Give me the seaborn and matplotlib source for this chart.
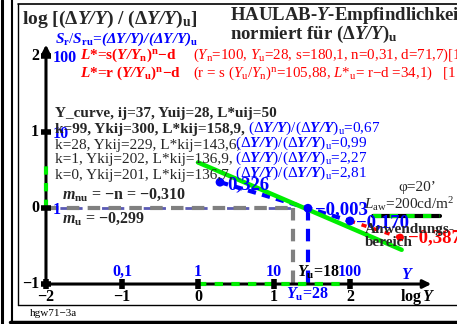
import numpy as np
import pandas as pd
import seaborn as sns
import matplotlib
matplotlib.use("Agg")
import matplotlib.pyplot as plt
from matplotlib.lines import Line2D

sns.set_theme(style="white")
plt.rcParams["font.family"] = ["Liberation Serif", "DejaVu Serif"]
plt.rcParams["mathtext.fontset"] = "custom"
plt.rcParams["mathtext.rm"] = "Liberation Serif"
plt.rcParams["mathtext.it"] = "Liberation Serif:italic"
plt.rcParams["mathtext.bf"] = "Liberation Serif:bold"
plt.rcParams["mathtext.bfit"] = "Liberation Serif:bold:italic"

# ---------------- data ----------------
x_ticks = [-2, -1, 0, 1, 2]
x_tick_labels = ["−2", "−1", "0", "1", "2"]
y_lin_pos = [-1, 0, 1, 2]
y_lin_labels = ["0,1", "1", "10", "100"]
y_ticks = [-1, 0, 1, 2]
y_tick_labels = ["−1", "0", "1", "2"]
s_ticks = [0, 1, 2]
s_labels = ["1", "10", "100"]

curve_logY = [0.0, 2.68]
curve_val = [0.60, -0.55]

point_logY = [0.29, 1.447, 2.0]
point_val = [0.34, -0.003, -0.17]
point_labels = ["0,326", "−0,003", "−0,170"]

red_logY = [2.0, 2.66]
red_val = [-0.17, -0.387]
red_label = "−0,387"

Yu_ref = 28
Yu_alt = 18

rows_black = ["k=99, Ykij=300, L*kij=158,9, ",
              "k=28, Ykij=229, L*kij=143,6, ",
              "k=1, Ykij=202, L*kij=136,9, ",
              "k=0, Ykij=201, L*kij=136,7, "]
rows_ratio = ["0,67", "0,99", "2,27", "2,81"]

W, H = 457, 324
fig = plt.figure(figsize=(W / 100, H / 100), dpi=100)
ax = fig.add_axes([0, 0, 1, 1])
ax.set_xlim(-2.605, 3.408)
ax.set_ylim(-1.526, 2.737)
ax.set_axis_off()


def fx(px):
    return px / W


def fy(py):
    return 1 - py / H


def ftext(px, py, s, **kw):
    kw.setdefault("va", "center")
    kw.setdefault("ha", "left")
    return fig.text(fx(px), fy(py), s, **kw)


def fline(xs, ys, **kw):
    fig.add_artist(Line2D([fx(v) for v in xs], [fy(v) for v in ys],
                          transform=fig.transFigure, **kw))

# frames
fline([1.5, 1.5], [0, 324], color="black", lw=2.2)
fline([11.5, 11.5], [0, 324], color="black", lw=1.5)
fline([10, 457], [322, 322], color="black", lw=2.5)
fline([18, 457], [4, 4], color="black", lw=1.2)
fline([18, 18], [4, 305], color="black", lw=1.0)
fline([18, 457], [305, 305], color="black", lw=1.0)
ftext(30, 313, "hgw71−3a", fontsize=8, color="black")

GREEN = "#00ee00"
BLUE = "#0000ff"
RED = "#ff0000"
GRAY = "#808080"

# reference dashed lines
lyu = np.log10(Yu_ref)
lya = np.log10(Yu_alt)
ax.plot([-2, lya], [0, 0], color="#5a5ab4", lw=2.0, dashes=(3, 2), zorder=2)
ax.plot([-2, lya], [0, 0], color=GRAY, lw=3, dashes=(3, 2), zorder=2)
ax.plot([lya, lya], [0, -1], color=GRAY, lw=3, dashes=(3, 2), zorder=2)
ax.plot([lyu, lyu], [0, -1], color=BLUE, lw=3, dashes=(3, 2), zorder=2)

# axes with arrows
ax.annotate("", xy=(3.07, -1), xytext=(-2.02, -1),
            arrowprops=dict(arrowstyle="-|>", lw=2.2, color="black",
                            mutation_scale=12, shrinkA=0, shrinkB=0), zorder=3)
ax.annotate("", xy=(-2, 2.15), xytext=(-2, -1.02),
            arrowprops=dict(arrowstyle="-|>", lw=2.2, color="black",
                            mutation_scale=12, shrinkA=0, shrinkB=0), zorder=3)
# green/black dashed segments on axes
ax.plot([0, 1.95], [-1, -1], color=GREEN, lw=3, dashes=(2, 2), zorder=4)
ax.plot([-2, -2], [0, 0.65], color=GREEN, lw=3, dashes=(2, 2), zorder=4)
ax.plot([2.3, 3.18], [-0.105, -0.105], color="black", lw=3, zorder=4)
ax.plot([2.3, 3.18], [-0.105, -0.105], color=GREEN, lw=3, dashes=(2, 2), zorder=4)

# ticks
ax.plot(x_ticks, [-1] * len(x_ticks), ls="none", marker="|", ms=7, mew=4,
        color="black", zorder=5)
ax.plot([-2] * len(y_ticks), y_ticks, ls="none", marker="_", ms=7, mew=4,
        color="black", zorder=5)
for x, lab in zip(x_ticks, x_tick_labels):
    ax.text(x, -1.17, lab, ha="center", va="center", fontsize=11.5,
            fontweight="bold", color="black")
for x, lab in zip(y_lin_pos, y_lin_labels):
    ax.text(x, -0.84, lab, ha="center", va="center", fontsize=11.5,
            fontweight="bold", color=BLUE)
for y, lab in zip(y_ticks, y_tick_labels):
    ax.text(-2.09, y, lab, ha="right", va="center", fontsize=11.5,
            fontweight="bold", color="black")
for y, lab in zip(s_ticks, s_labels):
    ax.text(-1.91, y - 0.02, lab, ha="left", va="center", fontsize=11.5,
            fontweight="bold", color=BLUE)

ax.text(2.76, -0.88, r"$\mathbfit{Y}$", ha="center", va="center",
        fontsize=11.5, color=BLUE)
ax.text(2.66, -1.17, r"log$\,\mathbfit{Y}$", ha="left", va="center",
        fontsize=11.5, fontweight="bold", color="black")
ax.text(lya + 0.62, -0.84, r"$\mathbfit{Y}_\mathbf{u}$=18", ha="right",
        va="center", fontsize=11.5, fontweight="bold", color="black")
ax.text(lyu, -1.14, r"$\mathbfit{Y}_\mathbf{u}$=28", ha="center",
        va="center", fontsize=11.5, fontweight="bold", color=BLUE)

# data curves
sns.lineplot(x=curve_logY, y=curve_val, ax=ax, color=GREEN, lw=3.2,
             zorder=6)
sns.lineplot(x=point_logY, y=point_val, ax=ax, color=BLUE, lw=3,
             dashes=False, linestyle=(0, (2, 1.5)), zorder=5)
sns.lineplot(x=red_logY, y=red_val, ax=ax, color=RED, lw=2.5,
             linestyle=(0, (1.5, 2)), zorder=5)
sns.scatterplot(x=point_logY, y=point_val, ax=ax, color=BLUE, s=40,
                edgecolor="none", zorder=7)
sns.scatterplot(x=red_logY[1:], y=red_val[1:], ax=ax, color=RED, s=30,
                edgecolor="none", zorder=7)

label_off = [(0.1, -0.03), (0.09, -0.02), (0.08, -0.03)]
for x, y, lab, (dx, dy) in zip(point_logY, point_val, point_labels, label_off):
    ax.text(x + dx, y + dy, lab, ha="left", va="center", fontsize=13.5,
            fontweight="bold", color=BLUE, zorder=8)
ax.text(red_logY[1] + 0.1, red_val[1] + 0.0, red_label, ha="left",
        va="center", fontsize=13.5, fontweight="bold", color=RED, zorder=8)

# titles
ftext(22, 19, r"log [(Δ$\mathbfit{Y/Y}$) / (Δ$\mathbfit{Y/Y}$)$_\mathbf{u}$]",
      fontsize=14, fontweight="bold")
ftext(230, 16, r"HAULAB-$\mathbfit{Y}$-Empfindlichkeit", fontsize=13.5,
      fontweight="bold")
ftext(230, 34, r"normiert für (Δ$\mathbfit{Y/Y}$)$_\mathbf{u}$", fontsize=13.5,
      fontweight="bold")
ftext(55, 39, r"$\mathbfit{S}_\mathbf{r}/\mathbfit{S}_\mathbf{ru}$=(Δ$\mathbfit{Y/Y}$)/(Δ$\mathbfit{Y/Y}$)$_\mathbf{u}$",
      fontsize=11, fontweight="bold", fontstyle="italic", color=BLUE)
ftext(80, 55, r"$\mathbfit{L}$*=s($\mathbfit{Y/Y}_\mathbf{n}$)$^\mathbf{n}$−d",
      fontsize=11, fontweight="bold", color=RED)
ftext(193, 55, r"($\mathit{Y}_\mathrm{n}$=100, $\mathit{Y}_\mathrm{u}$=28, s=180,1, n=0,31, d=71,7)[1",
      fontsize=10.8, color=RED)
ftext(80, 73, r"$\mathbfit{L}$*=r ($\mathbfit{Y/Y}_\mathbf{u}$)$^\mathbf{n}$−d",
      fontsize=11, fontweight="bold", color=RED)
ftext(193, 73, r"(r = s ($\mathit{Y}_\mathrm{u}/\mathit{Y}_\mathrm{n}$)$^\mathrm{n}$=105,88, $\mathit{L}$*$_\mathrm{u}$= r−d =34,1)   [1",
      fontsize=10.8, color=RED)

# info block
ftext(55, 114, "Y_curve, ij=37, Yuij=28, L*uij=50", fontsize=11,
      fontweight="bold")
row_py = [130, 145, 160, 175]
row_bx = [248, 235, 235, 235]
for i, (b, r) in enumerate(zip(rows_black, rows_ratio)):
    ftext(55, row_py[i], b, fontsize=11,
          fontweight="bold" if i == 0 else "normal")
    ftext(row_bx[i], row_py[i] - 2,
          r"(Δ$\mathbfit{Y/Y}$)/(Δ$\mathbfit{Y/Y}$)$_\mathrm{u}$=" + r,
          fontsize=11, color=BLUE)

ftext(62, 195, r"$\mathbfit{m}_\mathbf{nu}$ = −n = −0,310", fontsize=11.5,
      fontweight="bold")
ftext(62, 219, r"$\mathbfit{m}_\mathbf{u}$ = −0,299", fontsize=11.5,
      fontweight="bold")

# right annotations
ftext(398, 188, "φ=20’", fontsize=11)
ftext(364, 204, r"$\mathit{L}_\mathrm{aw}$=200cd/m$^2$", fontsize=11)
ftext(365, 229, "Anwendungs-", fontsize=11, fontweight="bold")
ftext(365, 243, "bereich", fontsize=11, fontweight="bold")

fig.savefig("out.png", dpi=100)
